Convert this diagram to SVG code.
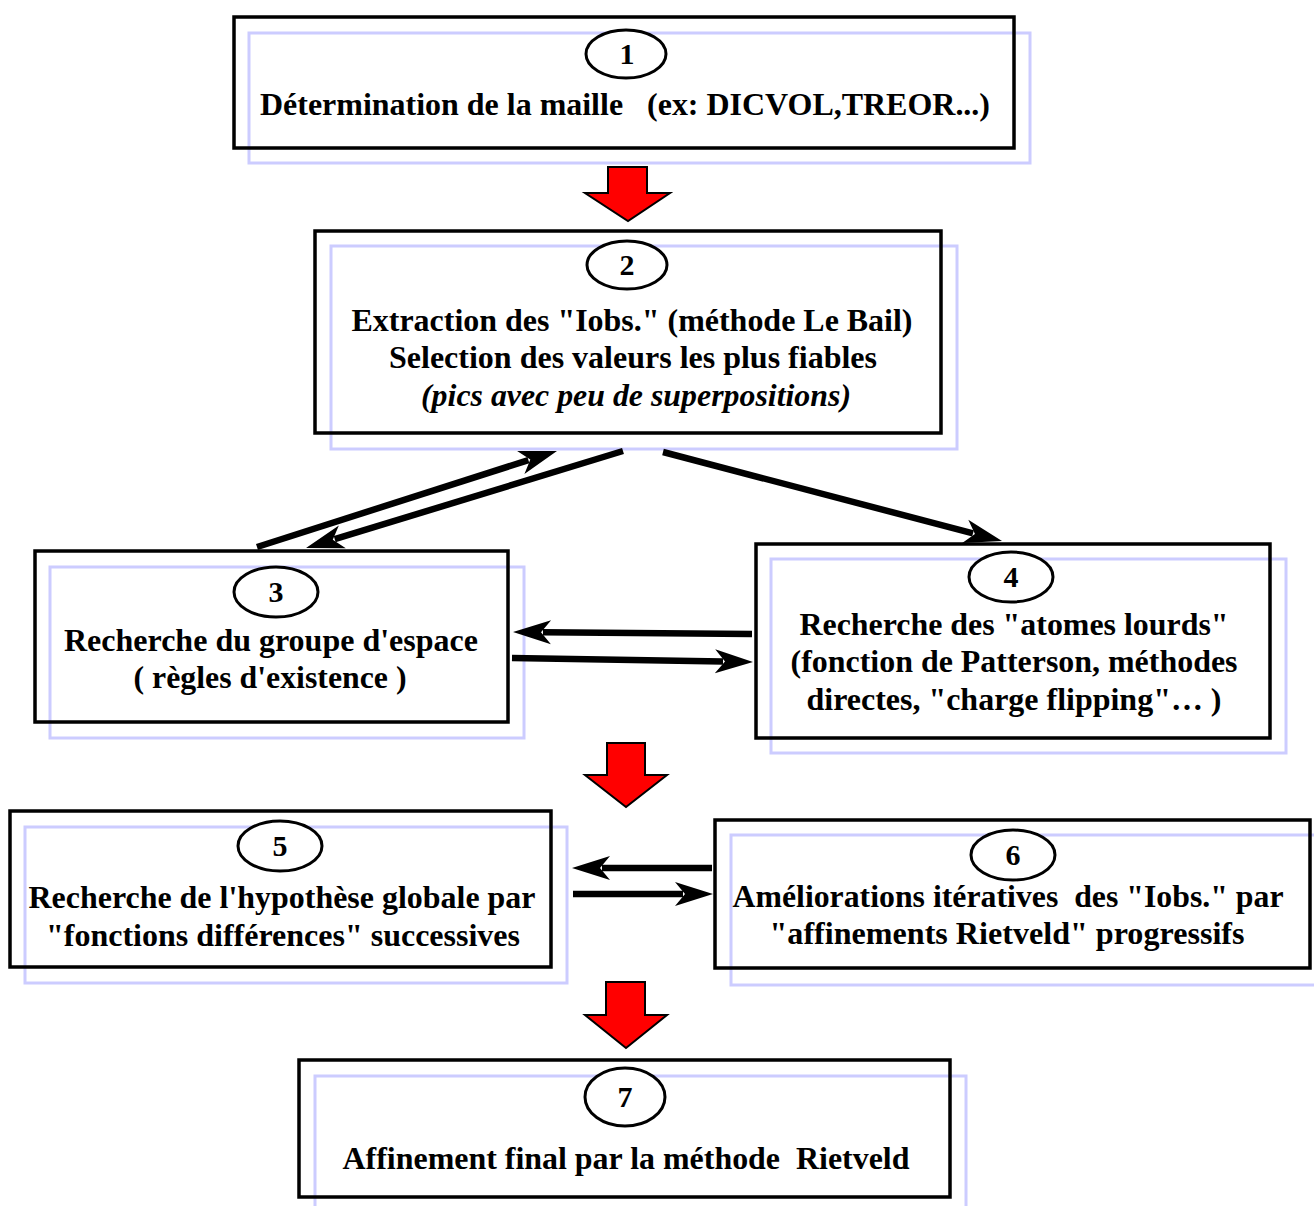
<svg xmlns="http://www.w3.org/2000/svg" width="1314" height="1206" viewBox="0 0 1314 1206">
<style>
.bg{fill:none;stroke:#ccccff;stroke-width:3}
.box{fill:none;stroke:#000;stroke-width:3.5}
.num{fill:#fff;stroke:#000;stroke-width:3}
text{font-family:"Liberation Serif","Times New Roman",serif;font-weight:bold;font-size:32px;fill:#000;text-anchor:middle}
.n{font-size:30px}
.it{font-style:italic}
.con{stroke:#000;stroke-width:6.5;fill:none}
.red{fill:#ff0000;stroke:#000;stroke-width:2;stroke-linejoin:miter}
</style>
<defs>
<marker id="ah" markerUnits="userSpaceOnUse" markerWidth="80" markerHeight="80" refX="0" refY="0" orient="auto" overflow="visible" viewBox="-40 -40 80 80">
<path d="M30,0 L-8,-12 L2,0 L-8,12 Z" fill="#000"/>
</marker>
</defs>
<rect width="1314" height="1206" fill="#fff"/>

<g id="node1">
<rect class="bg" x="249" y="33" width="781" height="130"/>
<rect class="box" x="234" y="17" width="780" height="131"/>
<ellipse class="num" cx="626" cy="54" rx="40" ry="24"/>
<text class="n" x="627" y="64">1</text>
<text x="625" y="115" textLength="730" lengthAdjust="spacingAndGlyphs" xml:space="preserve">Détermination de la maille   (ex: DICVOL,TREOR...)</text>
</g>

<g id="node2">
<rect class="bg" x="331" y="246" width="626" height="203"/>
<rect class="box" x="315" y="231" width="626" height="202"/>
<ellipse class="num" cx="627" cy="265" rx="40" ry="24"/>
<text class="n" x="627" y="275">2</text>
<text x="632" y="331" textLength="561" lengthAdjust="spacingAndGlyphs">Extraction des "Iobs." (méthode Le Bail)</text>
<text x="633" y="368" textLength="488" lengthAdjust="spacingAndGlyphs">Selection des valeurs les plus fiables</text>
<text class="it" x="636" y="406" textLength="430" lengthAdjust="spacingAndGlyphs">(pics avec peu de superpositions)</text>
</g>

<g id="node3">
<rect class="bg" x="50" y="567" width="474" height="171"/>
<rect class="box" x="35" y="551" width="473" height="171"/>
<ellipse class="num" cx="276" cy="592" rx="42" ry="25"/>
<text class="n" x="276" y="602">3</text>
<text x="271" y="651" textLength="414" lengthAdjust="spacingAndGlyphs">Recherche du groupe d'espace</text>
<text x="270" y="688" textLength="273" lengthAdjust="spacingAndGlyphs">( règles d'existence )</text>
</g>

<g id="node4">
<rect class="bg" x="771" y="559" width="515" height="194"/>
<rect class="box" x="756" y="544" width="514" height="194"/>
<ellipse class="num" cx="1011" cy="577" rx="42" ry="25"/>
<text class="n" x="1011" y="587">4</text>
<text x="1014" y="635" textLength="429" lengthAdjust="spacingAndGlyphs">Recherche des "atomes lourds"</text>
<text x="1014" y="672" textLength="447" lengthAdjust="spacingAndGlyphs">(fonction de Patterson, méthodes</text>
<text x="1014" y="710" textLength="415" lengthAdjust="spacingAndGlyphs">directes, "charge flipping"… )</text>
</g>

<g id="node5">
<rect class="bg" x="25" y="827" width="542" height="156"/>
<rect class="box" x="10" y="811" width="541" height="156"/>
<ellipse class="num" cx="280" cy="846" rx="42" ry="25"/>
<text class="n" x="280" y="856">5</text>
<text x="282" y="908" textLength="507" lengthAdjust="spacingAndGlyphs">Recherche de l'hypothèse globale par</text>
<text x="283" y="946" textLength="474" lengthAdjust="spacingAndGlyphs">"fonctions différences" successives</text>
</g>

<g id="node6">
<rect class="bg" x="731" y="835" width="590" height="150"/>
<rect class="box" x="715" y="820" width="595" height="148"/>
<ellipse class="num" cx="1013" cy="855" rx="42" ry="25"/>
<text class="n" x="1013" y="865">6</text>
<text x="1008" y="907" textLength="551" lengthAdjust="spacingAndGlyphs" xml:space="preserve">Améliorations itératives  des "Iobs." par</text>
<text x="1007" y="944" textLength="475" lengthAdjust="spacingAndGlyphs">"affinements Rietveld" progressifs</text>
</g>

<g id="node7">
<rect class="bg" x="315" y="1076" width="651" height="140"/>
<rect class="box" x="299" y="1060" width="651" height="137"/>
<ellipse class="num" cx="625" cy="1097" rx="40" ry="29"/>
<text class="n" x="625" y="1107">7</text>
<text x="626" y="1169" textLength="567" lengthAdjust="spacingAndGlyphs" xml:space="preserve">Affinement final par la méthode  Rietveld</text>
</g>

<g id="connectors">
<polygon class="red" points="608,167 647,167 647,193 670,193 628,221 585,193 608,193"/>
<polygon class="red" points="607,743 645,743 645,775 667,775 626,807 585,775 607,775"/>
<polygon class="red" points="606,982 645,982 645,1015 667,1015 626,1048 585,1015 606,1015"/>
<line class="con" x1="257" y1="547" x2="528.4" y2="460.1" marker-end="url(#ah)"/>
<line class="con" x1="623" y1="451" x2="334.7" y2="539.2" marker-end="url(#ah)"/>
<line class="con" x1="663" y1="452" x2="973" y2="533.4" marker-end="url(#ah)"/>
<line class="con" x1="752" y1="634" x2="543" y2="632.3" marker-end="url(#ah)"/>
<line class="con" x1="512" y1="658" x2="723" y2="661.5" marker-end="url(#ah)"/>
<line class="con" x1="712" y1="868" x2="602" y2="868" marker-end="url(#ah)"/>
<line class="con" x1="573" y1="894" x2="683" y2="894" marker-end="url(#ah)"/>
</g>
</svg>
